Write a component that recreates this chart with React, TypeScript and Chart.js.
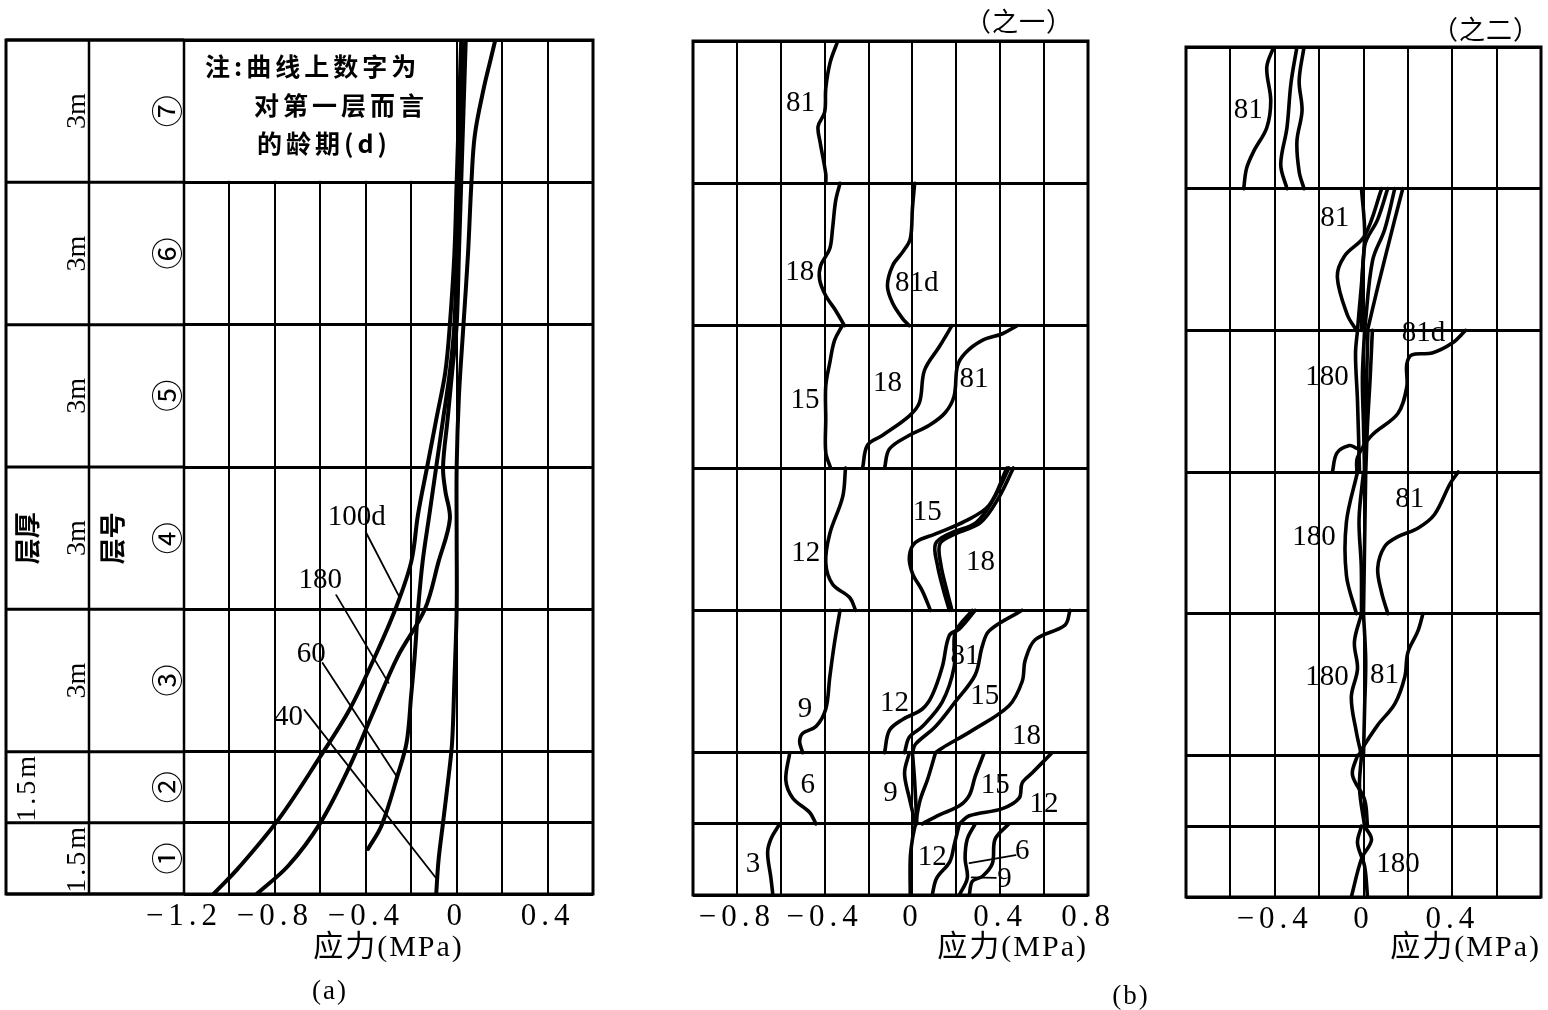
import React, { useEffect, useRef } from 'react';
import { Chart, registerables } from 'chart.js';

Chart.register(...registerables);

type Pt = [number, number]; // [stress MPa, height above base m]
type Lbl = [string, number, number];

const W = 1548;
const H = 1010;

const LAYER_BOUNDS = [0, 1.5, 3, 6, 9, 12, 15, 18];
const LAYER_NUMBERS = ['①', '②', '③', '④', '⑤', '⑥', '⑦'];
const LAYER_THICKNESS = ['1.5m', '1.5m', '3m', '3m', '3m', '3m', '3m'];
const AXIS_TITLE = '应力(MPa)';

// ---------------- (a) ----------------
const A_X_TICKS = [-1.2, -1.0, -0.8, -0.6, -0.4, -0.2, 0, 0.2, 0.4, 0.6];
const A_X_LABELED = [-1.2, -0.8, -0.4, 0, 0.4];
const A_100D: Pt[] = [[-1.07, 0], [-0.96, 0.55], [-0.78, 1.6], [-0.6, 2.9], [-0.47, 3.9], [-0.36, 5.0], [-0.27, 6.0], [-0.2, 7.0], [-0.17, 8.0], [-0.13, 9.0], [-0.09, 10.0], [-0.05, 11.0], [-0.03, 12.0], [-0.01, 13.5], [0.0, 15.0], [0.01, 16.5], [0.02, 18.0]];
const A_180: Pt[] = [[-0.88, 0], [-0.74, 0.6], [-0.6, 1.5], [-0.47, 2.7], [-0.37, 3.8], [-0.26, 5.0], [-0.14, 6.0], [-0.08, 7.0], [-0.03, 7.9], [-0.05, 8.5], [-0.06, 9.0], [-0.04, 10.0], [-0.02, 11.0], [0.0, 12.0], [0.01, 13.5], [0.02, 15.0], [0.03, 16.5], [0.04, 18.0]];
const A_60: Pt[] = [[-0.39, 0.95], [-0.33, 1.45], [-0.26, 2.5], [-0.22, 3.2], [-0.2, 4.2], [-0.185, 5.0], [-0.17, 6.0], [-0.15, 7.0], [-0.12, 8.0], [-0.09, 9.0], [-0.06, 10.0], [-0.03, 11.0], [-0.01, 12.0], [0.0, 13.5], [0.01, 15.0], [0.02, 16.5], [0.03, 18.0]];
const A_40: Pt[] = [[-0.09, 0], [-0.08, 0.7], [-0.06, 1.5], [-0.035, 2.5], [-0.02, 3.2], [-0.01, 4.5], [0.0, 6.0], [0.0, 7.5], [0.0, 9.0], [0.01, 10.5], [0.03, 12.0], [0.05, 13.5], [0.065, 15.0], [0.08, 16.0], [0.12, 17.0], [0.15, 17.6], [0.17, 18.0]];
const A_LEAD_100D: Pt[] = [[-0.40, 7.63], [-0.25, 6.24]];
const A_LEAD_180: Pt[] = [[-0.53, 6.30], [-0.30, 4.45]];
const A_LEAD_60: Pt[] = [[-0.59, 4.87], [-0.26, 2.45]];
const A_LEAD_40: Pt[] = [[-0.67, 3.88], [-0.085, 0.3]];
const A_LABELS: Lbl[] = [['100d', -0.44, 7.93], ['180', -0.60, 6.62], ['60', -0.64, 5.04], ['40', -0.74, 3.73]];
const A_NOTE = ['注:曲线上数字为', '对第一层而言', '的龄期(d)'];

// ---------------- (b) 之一 ----------------
const B1_X_TICKS = [-1.0, -0.8, -0.6, -0.4, -0.2, 0, 0.2, 0.4, 0.6, 0.8];
const B1_X_LABELED = [-0.8, -0.4, 0, 0.4, 0.8];
const B1_L7_81: Pt[] = [[-0.34, 18], [-0.375, 17.55], [-0.395, 17.0], [-0.40, 16.5], [-0.43, 16.2], [-0.42, 15.85], [-0.395, 15.2], [-0.395, 15.0]];
const B1_L6_18: Pt[] = [[-0.33, 15], [-0.35, 14.63], [-0.364, 14.05], [-0.377, 13.62], [-0.418, 13.27], [-0.423, 12.97], [-0.395, 12.63], [-0.35, 12.32], [-0.31, 12]];
const B1_L6_81: Pt[] = [[0.01, 15], [0.0, 14.48], [-0.01, 13.83], [-0.045, 13.55], [-0.09, 13.27], [-0.114, 12.84], [-0.09, 12.47], [-0.045, 12.15], [-0.014, 12]];
const B1_L5_15: Pt[] = [[-0.32, 12], [-0.355, 11.69], [-0.377, 11.21], [-0.395, 10.73], [-0.395, 10.02], [-0.395, 9.33], [-0.373, 9.0]];
const B1_L5_18: Pt[] = [[0.18, 12], [0.123, 11.56], [0.055, 11.06], [0.032, 10.38], [-0.014, 10.1], [-0.136, 9.69], [-0.205, 9.48], [-0.227, 9.0]];
const B1_L5_81: Pt[] = [[0.477, 12], [0.41, 11.83], [0.318, 11.69], [0.24, 11.42], [0.205, 11.15], [0.19, 10.52], [0.15, 10.17], [0.077, 9.9], [-0.014, 9.69], [-0.105, 9.4], [-0.127, 9.0]];
const B1_L4_12: Pt[] = [[-0.305, 9], [-0.318, 8.39], [-0.377, 7.61], [-0.395, 7.0], [-0.364, 6.55], [-0.286, 6.27], [-0.259, 6.0]];
const B1_L4_15: Pt[] = [[0.43, 9], [0.35, 8.22], [0.24, 7.88], [0.105, 7.61], [0.014, 7.43], [-0.014, 7.14], [0.0, 6.78], [0.045, 6.41], [0.082, 6.0]];
const B1_L4_18: Pt[] = [[0.44, 9], [0.37, 8.35], [0.29, 7.85], [0.17, 7.62], [0.105, 7.4], [0.114, 6.95], [0.14, 6.45], [0.168, 6.0]];
const B1_L4_81: Pt[] = [[0.46, 9], [0.39, 8.35], [0.31, 7.85], [0.19, 7.6], [0.125, 7.4], [0.13, 6.95], [0.155, 6.45], [0.18, 6.0]];
const B1_L3_9: Pt[] = [[-0.33, 6], [-0.355, 5.32], [-0.377, 4.58], [-0.395, 3.92], [-0.44, 3.55], [-0.5, 3.41], [-0.514, 3.23], [-0.5, 3.0]];
const B1_L3_12: Pt[] = [[0.286, 6], [0.214, 5.61], [0.168, 5.47], [0.136, 4.81], [0.09, 4.21], [0.045, 3.92], [-0.045, 3.7], [-0.105, 3.47], [-0.127, 3.0]];
const B1_L3_81: Pt[] = [[0.273, 6], [0.195, 5.53], [0.19, 4.81], [0.136, 4.07], [0.045, 3.55], [-0.014, 3.33], [-0.036, 3.0]];
const B1_L3_15: Pt[] = [[0.5, 6], [0.35, 5.57], [0.318, 5.24], [0.286, 4.64], [0.195, 4.07], [0.105, 3.55], [0.014, 3.18], [0.0, 3.0]];
const B1_L3_18: Pt[] = [[0.718, 6], [0.695, 5.69], [0.559, 5.38], [0.514, 4.95], [0.5, 4.5], [0.44, 3.99], [0.273, 3.47], [0.136, 3.1], [0.105, 3.0]];
const B1_L2_6: Pt[] = [[-0.559, 3.0], [-0.577, 2.42], [-0.545, 2.04], [-0.468, 1.74], [-0.44, 1.5]];
const B1_L2_9: Pt[] = [[-0.014, 3.0], [-0.036, 2.57], [-0.014, 2.04], [0.014, 1.5]];
const B1_L2_9B: Pt[] = [[0.0, 3.0], [0.01, 2.4], [0.02, 1.5]];
const B1_L2_18: Pt[] = [[0.105, 3.0], [0.07, 2.45], [0.035, 2.0], [0.014, 1.5]];
const B1_L2_15: Pt[] = [[0.327, 3.0], [0.286, 2.5], [0.259, 2.1], [0.214, 1.88], [0.123, 1.69], [0.045, 1.5]];
const B1_L2_12: Pt[] = [[0.636, 3.0], [0.545, 2.57], [0.5, 2.36], [0.486, 2.04], [0.41, 1.82], [0.259, 1.67], [0.214, 1.5]];
const B1_L1_3: Pt[] = [[-0.605, 1.5], [-0.645, 1.18], [-0.66, 0.89], [-0.645, 0.36], [-0.636, 0]];
const B1_L1_12A: Pt[] = [[0.014, 1.5], [0.0, 1.18], [-0.01, 0.77], [-0.01, 0]];
const B1_L1_12B: Pt[] = [[0.214, 1.5], [0.19, 1.05], [0.17, 0.7], [0.11, 0.35], [0.09, 0]];
const B1_L1_9: Pt[] = [[0.286, 1.5], [0.25, 1.18], [0.24, 0.77], [0.25, 0.36], [0.214, 0]];
const B1_L1_6: Pt[] = [[0.44, 1.5], [0.377, 1.18], [0.364, 0.66], [0.318, 0.39], [0.273, 0.29], [0.259, 0]];
const B1_LEAD_6: Pt[] = [[0.26, 0.67], [0.47, 0.84]];
const B1_LEAD_9: Pt[] = [[0.27, 0.37], [0.38, 0.36]];
const B1_LABELS: Lbl[] = [
  ['81', -0.51, 16.69], ['18', -0.514, 13.13], ['81d', 0.02, 12.9],
  ['15', -0.49, 10.43], ['18', -0.114, 10.79], ['81', 0.28, 10.86],
  ['12', -0.486, 7.19], ['15', 0.068, 8.07], ['18', 0.31, 7.0],
  ['9', -0.49, 3.92], ['12', -0.082, 4.03], ['81', 0.24, 5.02], ['15', 0.33, 4.19], ['18', 0.52, 3.35],
  ['6', -0.477, 2.30], ['9', -0.1, 2.15], ['15', 0.377, 2.30], ['12', 0.6, 1.90],
  ['3', -0.727, 0.65], ['12', 0.09, 0.80], ['6', 0.5, 0.91], ['9', 0.42, 0.32],
];

// ---------------- (b) 之二 ----------------
const B2_X_TICKS = [-0.8, -0.6, -0.4, -0.2, 0, 0.2, 0.4, 0.6, 0.8];
const B2_X_LABELED = [-0.4, 0, 0.4];
const B2_L7_81: Pt[] = [[-0.405, 18], [-0.436, 17.57], [-0.418, 16.86], [-0.436, 16.29], [-0.495, 15.79], [-0.527, 15.43], [-0.54, 15.0]];
const B2_L7_B: Pt[] = [[-0.3, 18], [-0.327, 17.23], [-0.345, 16.29], [-0.373, 15.51], [-0.345, 15.0]];
const B2_L7_C: Pt[] = [[-0.268, 18], [-0.29, 17.29], [-0.277, 16.65], [-0.3, 16.01], [-0.29, 15.36], [-0.268, 15.0]];
const B2_L6_A: Pt[] = [[-0.009, 15], [0.005, 14.0], [-0.027, 12]];
const B2_L6_81: Pt[] = [[0.082, 15], [0.005, 14.0], [-0.086, 13.57], [-0.118, 13.13], [-0.073, 12.33], [-0.032, 12]];
const B2_L6_C: Pt[] = [[0.109, 15], [0.064, 14.35], [0.005, 13.78], [-0.009, 12]];
const B2_L6_D: Pt[] = [[0.141, 15], [0.095, 14.13], [0.041, 13.48], [0.005, 12]];
const B2_L6_E: Pt[] = [[0.177, 15], [0.141, 14.35], [0.064, 12.91], [0.018, 12]];
const B2_L5_81: Pt[] = [[0.46, 12], [0.4, 11.73], [0.309, 11.52], [0.218, 11.48], [0.195, 11.28], [0.195, 10.8], [0.155, 10.24], [0.036, 9.77], [-0.027, 9.31], [-0.03, 9.0]];
const B2_L5_A: Pt[] = [[-0.027, 12], [-0.036, 11.5], [-0.027, 10.5], [-0.018, 9.0]];
const B2_L5_B: Pt[] = [[0.005, 12], [-0.005, 11], [0.0, 10], [0.005, 9.0]];
const B2_L5_C: Pt[] = [[0.02, 12], [0.014, 11], [0.009, 10], [0.005, 9.0]];
const B2_L5_D: Pt[] = [[0.04, 12], [0.03, 11], [0.018, 10], [0.01, 9.0]];
const B2_L5_HOOK: Pt[] = [[-0.14, 9.0], [-0.12, 9.4], [-0.064, 9.56], [-0.03, 9.5]];
const B2_L4_81: Pt[] = [[0.427, 9], [0.39, 8.75], [0.32, 8.1], [0.245, 7.81], [0.155, 7.63], [0.095, 7.42], [0.064, 6.96], [0.082, 6.44], [0.11, 6.0]];
const B2_L4_180A: Pt[] = [[-0.027, 9], [-0.077, 7.94], [-0.077, 6.81], [-0.032, 6]];
const B2_L4_180B: Pt[] = [[0.0, 9], [-0.02, 8], [-0.01, 7], [-0.009, 6]];
const B2_L4_180C: Pt[] = [[0.01, 9], [0.005, 7.5], [0.0, 6]];
const B2_L3_81: Pt[] = [[0.268, 6], [0.245, 5.63], [0.2, 5.18], [0.186, 4.66], [0.141, 4.09], [0.064, 3.64], [-0.009, 3.12], [-0.02, 3.0]];
const B2_L3_180A: Pt[] = [[-0.009, 6], [-0.041, 5.4], [-0.027, 4.83], [-0.055, 4.23], [-0.032, 3.49], [-0.009, 3.0]];
const B2_L3_180B: Pt[] = [[0.0, 6], [0.01, 5], [0.005, 4], [0.0, 3]];
const B2_L2_180A: Pt[] = [[-0.027, 3], [-0.05, 2.59], [0.005, 2.06], [0.018, 1.5]];
const B2_L2_180B: Pt[] = [[-0.009, 3], [-0.018, 2.3], [0.005, 1.5]];
const B2_L1_180A: Pt[] = [[0.005, 1.5], [0.036, 1.21], [-0.009, 0.81], [-0.055, 0]];
const B2_L1_180B: Pt[] = [[-0.009, 1.5], [-0.027, 1.14], [0.005, 0.65], [0.018, 0]];
const B2_LABELS: Lbl[] = [
  ['81', -0.52, 16.65], ['81', -0.13, 14.38], ['81d', 0.27, 11.94], ['180', -0.164, 11.01],
  ['81', 0.209, 8.41], ['180', -0.223, 7.62], ['81', 0.095, 4.70], ['180', -0.164, 4.66], ['180', 0.155, 0.70],
];

interface Panel {
  left: number;
  width: number;
  area: { l: number; r: number; t: number; b: number };
  xTicks: number[];
  xLabeled: number[];
  curves: Pt[][];
  leaders: Pt[][];
  labels: Lbl[];
  lw: number;
  titleAlign: 'center' | 'end';
  side: boolean;
}

const PANELS: Panel[] = [
  {
    left: 0, width: 640, area: { l: 184, r: 593, t: 40, b: 894 },
    xTicks: A_X_TICKS, xLabeled: A_X_LABELED,
    curves: [A_100D, A_180, A_60, A_40],
    leaders: [A_LEAD_100D, A_LEAD_180, A_LEAD_60, A_LEAD_40],
    labels: A_LABELS, lw: 4, titleAlign: 'center', side: true,
  },
  {
    left: 640, width: 500, area: { l: 693, r: 1088, t: 41, b: 895 },
    xTicks: B1_X_TICKS, xLabeled: B1_X_LABELED,
    curves: [B1_L7_81, B1_L6_18, B1_L6_81, B1_L5_15, B1_L5_18, B1_L5_81, B1_L4_12, B1_L4_15, B1_L4_18, B1_L4_81,
      B1_L3_9, B1_L3_12, B1_L3_81, B1_L3_15, B1_L3_18, B1_L2_6, B1_L2_9, B1_L2_9B, B1_L2_18, B1_L2_15, B1_L2_12,
      B1_L1_3, B1_L1_12A, B1_L1_12B, B1_L1_9, B1_L1_6],
    leaders: [B1_LEAD_6, B1_LEAD_9],
    labels: B1_LABELS, lw: 3.6, titleAlign: 'end', side: false,
  },
  {
    left: 1140, width: 408, area: { l: 1186, r: 1541, t: 47, b: 897 },
    xTicks: B2_X_TICKS, xLabeled: B2_X_LABELED,
    curves: [B2_L7_81, B2_L7_B, B2_L7_C, B2_L6_A, B2_L6_81, B2_L6_C, B2_L6_D, B2_L6_E, B2_L5_81, B2_L5_A, B2_L5_B,
      B2_L5_C, B2_L5_D, B2_L5_HOOK, B2_L4_81, B2_L4_180A, B2_L4_180B, B2_L4_180C, B2_L3_81, B2_L3_180A, B2_L3_180B,
      B2_L2_180A, B2_L2_180B, B2_L1_180A, B2_L1_180B],
    leaders: [],
    labels: B2_LABELS, lw: 3.6, titleAlign: 'end', side: false,
  },
];

const SERIF = '"Liberation Serif", "DejaVu Serif", serif';
const CJK = '"Noto Sans CJK SC", sans-serif';

const fmtTick = (v: number): string => {
  if (Math.abs(v) < 1e-9) return '0';
  return (v < 0 ? '\u2212' : '') + Math.abs(v).toFixed(1);
};

const rotText = (ctx: CanvasRenderingContext2D, text: string, x: number, y: number, font: string, spacing = '0px') => {
  ctx.save();
  ctx.translate(x, y);
  ctx.rotate(-Math.PI / 2);
  ctx.font = font;
  (ctx as any).letterSpacing = spacing;
  ctx.textAlign = 'center';
  ctx.textBaseline = 'middle';
  ctx.fillStyle = '#000';
  ctx.fillText(text, 0, 0);
  ctx.restore();
};

const makePlugin = (p: Panel) => ({
  id: 'deco',
  beforeDraw(chart: any) {
    // spacing used by the axis title (drawn with the grid layer)
    (chart.ctx as any).letterSpacing = '2px';
  },
  beforeDatasetsDraw(chart: any) {
    const ctx: CanvasRenderingContext2D = chart.ctx;
    const a = chart.chartArea;
    const xs = chart.scales.x;
    const ys = chart.scales.y;
    ctx.save();
    (ctx as any).letterSpacing = '0px';
    ctx.strokeStyle = '#000';
    const frameLeft = p.side ? a.left - 178 : a.left;
    if (p.side) {
      const x0 = xs.getPixelForValue(0);
      const yT = ys.getPixelForValue(18);
      const yB = ys.getPixelForValue(15);
      ctx.fillStyle = '#fff';
      ctx.fillRect(a.left + 2, yT + 2, x0 - a.left - 3.5, yB - yT - 3.5);
      ctx.lineWidth = 3;
      LAYER_BOUNDS.forEach((b) => {
        const yy = ys.getPixelForValue(b);
        ctx.beginPath();
        ctx.moveTo(frameLeft, yy);
        ctx.lineTo(a.left, yy);
        ctx.stroke();
      });
      ctx.lineWidth = 2.5;
      [a.left - 95, a.left].forEach((xx) => {
        ctx.beginPath();
        ctx.moveTo(xx, a.top);
        ctx.lineTo(xx, a.bottom);
        ctx.stroke();
      });
    }
    ctx.lineWidth = 3;
    ctx.strokeRect(frameLeft, a.top, a.right - frameLeft, a.bottom - a.top);
    ctx.restore();
  },
  afterDatasetsDraw(chart: any) {
    const ctx: CanvasRenderingContext2D = chart.ctx;
    const a = chart.chartArea;
    const xs = chart.scales.x;
    const ys = chart.scales.y;
    ctx.save();
    ctx.fillStyle = '#000';
    ctx.textAlign = 'center';
    ctx.textBaseline = 'middle';
    ctx.font = `29px ${SERIF}`;
    (ctx as any).letterSpacing = '0px';
    p.labels.forEach(([t, s, h]) => {
      ctx.fillText(t, xs.getPixelForValue(s), ys.getPixelForValue(h));
    });
    if (p.side) {
      ctx.textAlign = 'left';
      ctx.font = `bold 25px ${CJK}`;
      (ctx as any).letterSpacing = '4px';
      ctx.fillText(A_NOTE[0], a.left + 21, a.top + 26);
      ctx.fillText(A_NOTE[1], a.left + 70, a.top + 65);
      ctx.fillText(A_NOTE[2], a.left + 73, a.top + 103);
      for (let i = 0; i < 7; i++) {
        const yc = ys.getPixelForValue((LAYER_BOUNDS[i] + LAYER_BOUNDS[i + 1]) / 2);
        const tx = i === 1 ? a.left - 156 : a.left - 106;
        rotText(ctx, LAYER_THICKNESS[i], tx, yc, `28px ${SERIF}`, i < 2 ? '3px' : '0px');
        rotText(ctx, LAYER_NUMBERS[i], a.left - 17, yc, `32px ${CJK}`);
      }
      const y4 = ys.getPixelForValue(7.5);
      rotText(ctx, '层厚', a.left - 157, y4, `bold 26px ${CJK}`);
      rotText(ctx, '层号', a.left - 72, y4, `bold 26px ${CJK}`);
    }
    ctx.restore();
    // wide spacing for the tick labels, which are drawn after the datasets (ticks.z = 1)
    (ctx as any).letterSpacing = '5px';
  },
  afterDraw(chart: any) {
    (chart.ctx as any).letterSpacing = '0px';
  },
});

const buildConfig = (p: Panel): any => {
  const line = (c: Pt[], lw: number, tension: number) => ({
    data: c.map(([x, y]) => ({ x, y })),
    borderColor: '#000',
    backgroundColor: '#000',
    borderWidth: lw,
    pointRadius: 0,
    tension,
    fill: false,
    borderCapStyle: 'round',
    borderJoinStyle: 'round',
  });
  const xMin = p.xTicks[0];
  const xMax = p.xTicks[p.xTicks.length - 1];
  return {
    type: 'line',
    data: {
      datasets: [
        ...p.curves.map((c) => line(c, p.lw, 0.35)),
        ...p.leaders.map((c) => line(c, 1.8, 0)),
      ],
    },
    options: {
      responsive: false,
      maintainAspectRatio: false,
      animation: false,
      devicePixelRatio: 1,
      events: [],
      layout: { padding: { left: p.area.l - p.left, right: p.left + p.width - p.area.r, top: p.area.t, bottom: 0 } },
      plugins: { legend: { display: false }, tooltip: { enabled: false }, title: { display: false } },
      scales: {
        x: {
          type: 'linear',
          min: xMin,
          max: xMax,
          afterBuildTicks: (s: any) => { s.ticks = p.xTicks.map((v) => ({ value: v })); },
          afterFit: (s: any) => { s.height = H - p.area.b; },
          grid: { color: '#000', lineWidth: 2, drawTicks: false },
          border: { display: false },
          ticks: {
            z: 1,
            autoSkip: false, maxRotation: 0, minRotation: 0, padding: 4, color: '#000',
            font: { family: SERIF, size: 31 },
            callback: (v: number) => (p.xLabeled.some((l) => Math.abs(l - v) < 1e-6) ? fmtTick(v) : ''),
          },
          title: {
            display: true, text: AXIS_TITLE, align: p.titleAlign, color: '#000',
            font: { family: `${SERIF}, ${CJK}`, size: 30 },
            padding: { top: 0, bottom: 44 },
          },
        },
        y: {
          type: 'linear',
          min: 0,
          max: 18,
          afterBuildTicks: (s: any) => { s.ticks = LAYER_BOUNDS.map((v) => ({ value: v })); },
          afterFit: (s: any) => { s.width = 0; },
          grid: { color: '#000', lineWidth: 3, drawTicks: false },
          border: { display: false },
          ticks: { display: false, autoSkip: false },
        },
      },
    },
    plugins: [makePlugin(p)],
  };
};

function PanelChart({ p }: { p: Panel }) {
  const ref = useRef<HTMLCanvasElement | null>(null);
  useEffect(() => {
    if (!ref.current) return;
    const chart = new Chart(ref.current, buildConfig(p));
    return () => chart.destroy();
  }, [p]);
  return (
    <canvas
      ref={ref}
      width={p.width}
      height={H}
      style={{ position: 'absolute', left: p.left, top: 0, width: p.width, height: H }}
    />
  );
}

const textStyle = (x: number, y: number, font: string, spacing = 0): React.CSSProperties => ({
  position: 'absolute', left: x, top: y, transform: 'translate(-50%, -50%)', font, color: '#000',
  whiteSpace: 'nowrap', letterSpacing: spacing,
});

export default function App() {
  return (
    <div style={{ position: 'absolute', left: 0, top: 0, width: W, height: H, background: '#fff', overflow: 'hidden' }}>
      {PANELS.map((p, i) => <PanelChart key={i} p={p} />)}
      <div style={textStyle(1019, 19, `26px ${CJK}`, 1)}>（之一）</div>
      <div style={textStyle(1486, 27, `26px ${CJK}`, 1)}>（之二）</div>
      <div style={textStyle(330, 990, `27px ${SERIF}`, 2)}>(a)</div>
      <div style={textStyle(1131, 995, `27px ${SERIF}`, 2)}>(b)</div>
    </div>
  );
}
